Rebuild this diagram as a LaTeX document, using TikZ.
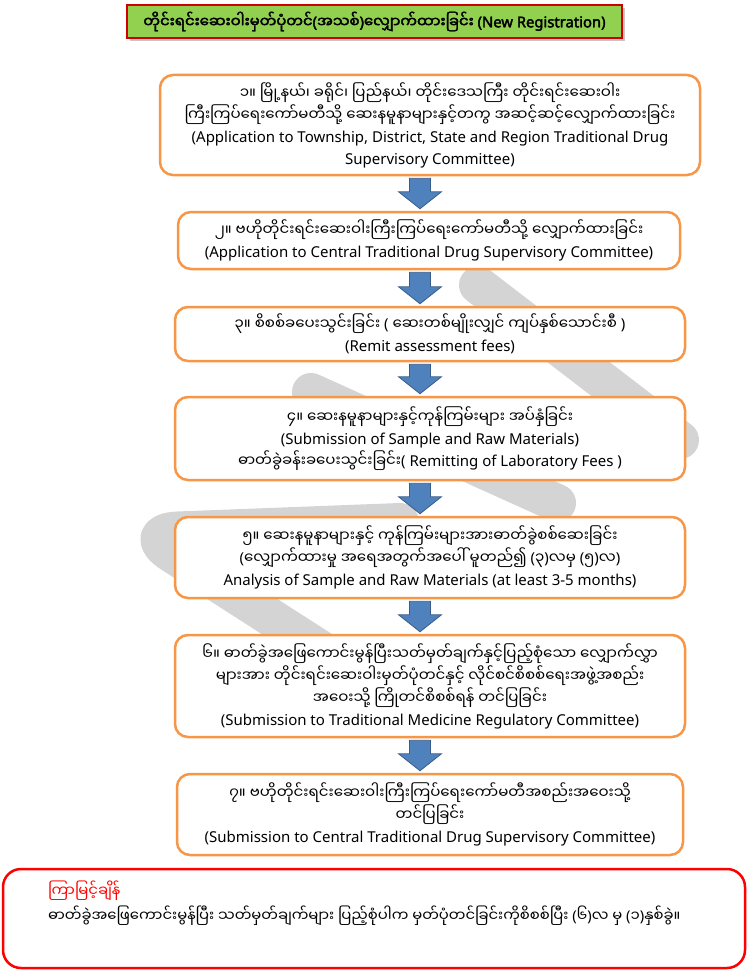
\documentclass[tikz,border=0pt]{standalone}
\usepackage{fontspec}
\setmainfont{Noto Sans}[AutoFakeBold=2.5]
\newfontfamily\myfont[Script=Myanmar,AutoFakeBold=2.5]{Noto Sans Myanmar UI}
\newcommand{\my}[1]{{\myfont #1}}
\usetikzlibrary{calc,shadows}
\definecolor{boxorange}{HTML}{F79646}
\definecolor{arrowblue}{HTML}{4F81BD}
\definecolor{arrowedge}{HTML}{385D8A}
\definecolor{titlegreen}{HTML}{92D050}
\definecolor{titlered}{HTML}{D00000}
\definecolor{notered}{HTML}{FF0000}
\definecolor{wmgray}{HTML}{D4D4D4}

% block arrow from one box down to the next
\newcommand{\flowarrow}[2]{%
  \filldraw[blockarrow] let \p1=(axis |- #1.south), \p2=(axis |- #2.north) in
    (\x1-10.5pt,\y1-2pt) -- (\x1+10.5pt,\y1-2pt) -- (\x1+10.5pt,\y2+19pt)
    -- (\x1+21.5pt,\y2+19pt) -- (\x1,\y2+2pt) -- (\x1-21.5pt,\y2+19pt)
    -- (\x1-10.5pt,\y2+19pt) -- cycle;}

\begin{document}
\begin{tikzpicture}[x=1pt,y=-1pt,
  stepbox/.style={draw=boxorange,line width=2.5pt,rounded corners=13pt,fill=white,
    align=center,inner sep=0pt,font=\fontsize{15}{22}\selectfont},
  titlebox/.style={draw=titlered,line width=2.2pt,fill=titlegreen,inner sep=0pt,
    drop shadow={shadow xshift=3pt,shadow yshift=-3pt,opacity=0.45},
    font=\bfseries\fontsize{14.8}{16}\selectfont},
  notebox/.style={draw=notered,line width=2.5pt,rounded corners=18pt,fill=white},
  notetxt/.style={anchor=west,inner sep=0pt,font=\fontsize{14.8}{18}\selectfont},
  blockarrow/.style={fill=arrowblue,draw=arrowedge,line width=0.8pt},
  watermark/.style={draw=wmgray,line width=38pt,line cap=round,line join=round}]

\useasboundingbox (0,0) rectangle (750,971);

% grey logo behind the boxes
\draw[watermark] (478,285) -- (680,440);
\draw[watermark] (311,392) -- (557,503);
\draw[watermark,rounded corners=40pt] (400,522) -- (138,532) -- (345,665);

\node[titlebox,minimum width=495,minimum height=33] (title) at (374.5,21.5)
  {\my{တိုင်းရင်းဆေးဝါးမှတ်ပုံတင်}(\my{အသစ်})\my{လျှောက်ထားခြင်း} (New Registration)};

\node[stepbox,minimum width=540,minimum height=100] (b1) at (430,125)
  {\my{၁။ မြို့နယ်၊ ခရိုင်၊ ပြည်နယ်၊ တိုင်းဒေသကြီး တိုင်းရင်းဆေးဝါး}\\
   \my{ကြီးကြပ်ရေးကော်မတီသို့ ဆေးနမူနာများနှင့်တကွ အဆင့်ဆင့်လျှောက်ထားခြင်း}\\
   (Application to Township, District, State and Region Traditional Drug\\
   Supervisory Committee)};
\node[stepbox,minimum width=502,minimum height=57] (b2) at (429,240.5)
  {\my{၂။ ဗဟိုတိုင်းရင်းဆေးဝါးကြီးကြပ်ရေးကော်မတီသို့ လျှောက်ထားခြင်း}\\
   (Application to Central Traditional Drug Supervisory Committee)};
\node[stepbox,minimum width=510,minimum height=54] (b3) at (430,334)
  {\my{၃။ စိစစ်ခပေးသွင်းခြင်း} ( \my{ဆေးတစ်မျိုးလျှင် ကျပ်နှစ်သောင်းစီ} )\\
   (Remit assessment fees)};
\node[stepbox,minimum width=510,minimum height=83] (b4) at (430,438.5)
  {\my{၄။ ဆေးနမူနာများနှင့်ကုန်ကြမ်းများ အပ်နှံခြင်း}\\
   (Submission of Sample and Raw Materials)\\
   \my{ဓာတ်ခွဲခန်းခပေးသွင်းခြင်း}( Remitting of Laboratory Fees )};
\node[stepbox,minimum width=510,minimum height=81] (b5) at (430,557.5)
  {\my{၅။ ဆေးနမူနာများနှင့် ကုန်ကြမ်းများအားဓာတ်ခွဲစစ်ဆေးခြင်း}\\
   (\my{လျှောက်ထားမှု အရေအတွက်အပေါ် မူတည်၍} (\my{၃})\my{လမှ} (\my{၅})\my{လ})\\
   Analysis of Sample and Raw Materials (at least 3-5 months)};
\node[stepbox,minimum width=510,minimum height=102] (b6) at (430,686)
  {\my{၆။ ဓာတ်ခွဲအဖြေကောင်းမွန်ပြီးသတ်မှတ်ချက်နှင့်ပြည့်စုံသော လျှောက်လွှာ}\\
   \my{များအား တိုင်းရင်းဆေးဝါးမှတ်ပုံတင်နှင့် လိုင်စင်စိစစ်ရေးအဖွဲ့အစည်း}\\
   \my{အဝေးသို့ ကြိုတင်စိစစ်ရန် တင်ပြခြင်း}\\
   (Submission to Traditional Medicine Regulatory Committee)};
\node[stepbox,minimum width=506,minimum height=81] (b7) at (430,814.5)
  {\my{၇။ ဗဟိုတိုင်းရင်းဆေးဝါးကြီးကြပ်ရေးကော်မတီအစည်းအဝေးသို့}\\
   \my{တင်ပြခြင်း}\\
   (Submission to Central Traditional Drug Supervisory Committee)};

\coordinate (axis) at (420,0);
\foreach \a/\b in {b1/b2,b2/b3,b3/b4,b4/b5,b5/b6,b6/b7} {\flowarrow{\a}{\b}}

% time note at the bottom
\draw[notebox] (3,869) rectangle (745,968);
\node[notetxt,text=notered] (notehead) at (48,891) {\my{ကြာမြင့်ချိန်}};
\node[notetxt] (notebody) at (48,916)
  {\my{ဓာတ်ခွဲအဖြေကောင်းမွန်ပြီး သတ်မှတ်ချက်များ ပြည့်စုံပါက မှတ်ပုံတင်ခြင်းကိုစိစစ်ပြီး} (\my{၆})\my{လ မှ} (\my{၁})\my{နှစ်ခွဲ။}};
\end{tikzpicture}
\end{document}
